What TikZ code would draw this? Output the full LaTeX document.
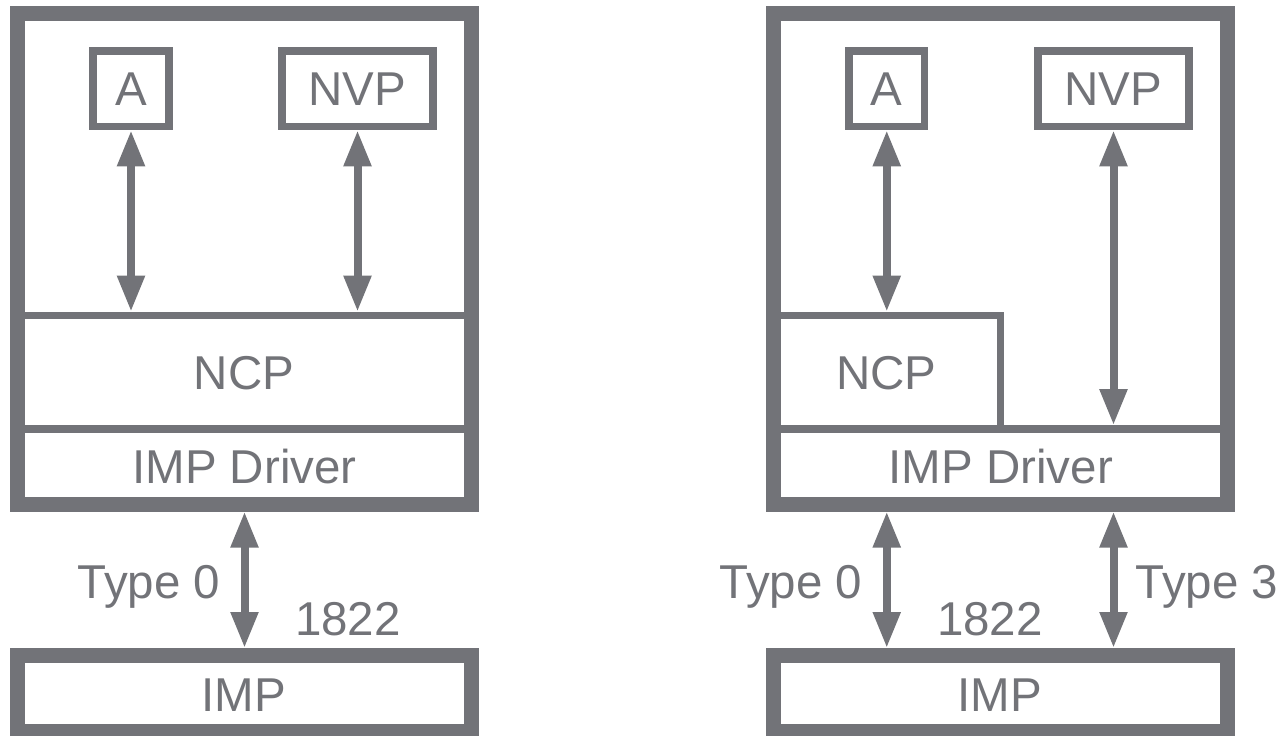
\documentclass[tikz,border=0pt]{standalone}
\usepackage{fontspec}
\setmainfont{Liberation Sans}
\usetikzlibrary{arrows.meta}
\definecolor{fg}{RGB}{114,115,120}
\begin{document}
\begin{tikzpicture}[x=0.5pt,y=-0.5pt,
  every node/.style={text=fg,font=\fontsize{23.75}{28}\selectfont},
  hostbox/.style={draw=fg,line width=7.5pt,minimum width=227pt,minimum height=245.25pt,inner sep=0pt},
  impbox/.style={draw=fg,line width=7.5pt,minimum width=227pt,minimum height=38pt,inner sep=0pt},
  appbox/.style={draw=fg,line width=3.75pt,minimum height=37.75pt,inner sep=0pt},
  layer/.style={draw=fg,line width=3.75pt},
  link/.style={draw=fg,line width=4pt,{Triangle[length=18pt,width=13pt]}-{Triangle[length=18pt,width=13pt]}},
  lbl/.style={anchor=base,inner sep=0pt}
]
\useasboundingbox (0,0) rectangle (1282,735);
% ---------- left ----------
\node[hostbox] (host1) at (244.5,258.75) {};
\node[impbox] (imp1) at (244.5,693.5) {};
\node[appbox,minimum width=38pt] (a1) at (131,88.75) {A};
\node[appbox,minimum width=75.5pt] (nvp1) at (357.5,88.75) {NVP};
\draw[layer] (17.5,315.5) -- (471.5,315.5);
\draw[layer] (17.5,429) -- (471.5,429);
\coordinate (ncp1a) at (131,311.7);
\coordinate (ncp1b) at (357.5,311.7);
\draw[link] (a1.south) -- (ncp1a);
\draw[link] (nvp1.south) -- (ncp1b);
\draw[link] (host1.south) -- (imp1.north);
\node[lbl] (ncp1) at (244,389) {NCP};
\node[lbl] (drv1) at (244.5,483) {IMP Driver};
\node[lbl] (t01) at (149,598) {Type 0};
\node[lbl] (n1) at (348,635) {1822};
\node[lbl] (imptxt1) at (244,711) {IMP};
% ---------- right ----------
\node[hostbox,minimum width=226.75pt] (host2) at (1000.25,258.75) {};
\node[impbox,minimum width=226.75pt] (imp2) at (1000.25,693.5) {};
\node[appbox,minimum width=37.75pt] (a2) at (886.75,88.75) {A};
\node[appbox,minimum width=75.5pt] (nvp2) at (1113.5,88.75) {NVP};
\draw[layer] (773.5,315.5) -- (1000.3,315.5) -- (1000.3,429);
\draw[layer] (773.5,429) -- (1227,429);
\coordinate (ncp2a) at (886.75,311.7);
\coordinate (drv2b) at (1113.5,425.2);
\draw[link] (a2.south) -- (ncp2a);
\draw[link] (nvp2.south) -- (drv2b);
\draw[link] (a2.south |- host2.south) -- (a2.south |- imp2.north);
\draw[link] (nvp2.south |- host2.south) -- (nvp2.south |- imp2.north);
\node[lbl] (ncp2) at (886.5,389) {NCP};
\node[lbl] (drv2) at (1000.8,483) {IMP Driver};
\node[lbl] (t02) at (791,598) {Type 0};
\node[lbl] (t32) at (1207,598) {Type 3};
\node[lbl] (n2) at (990,635) {1822};
\node[lbl] (imptxt2) at (1000,711) {IMP};
\end{tikzpicture}
\end{document}
